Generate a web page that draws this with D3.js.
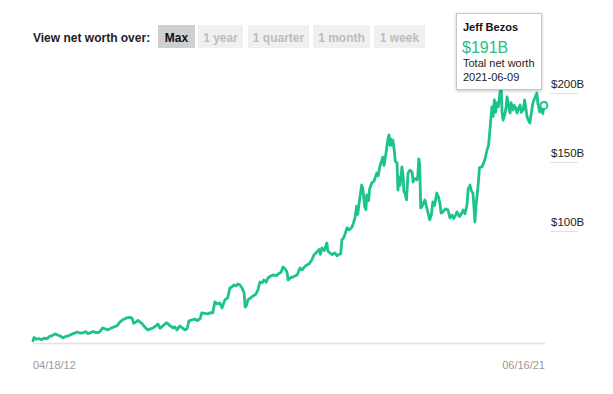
<!DOCTYPE html>
<html>
<head>
<meta charset="utf-8">
<script src="https://cdn.jsdelivr.net/npm/d3@7"></script>
<style>
  html, body { margin: 0; padding: 0; background: #fff; }
  svg { display: block; font-family: "Liberation Sans", Arial, sans-serif; }
</style>
</head>
<body>
<svg id="chart" width="613" height="394"></svg>
<script>
// ---- data (net worth, $B) ----
const dates = [
  "2012-04-18","2012-04-25","2012-05-10","2012-05-25","2012-06-15","2012-07-01","2012-07-18","2012-08-05","2012-08-22","2012-09-09","2012-09-25","2012-10-12","2012-11-01","2012-11-15","2012-12-03","2012-12-20",
  "2013-01-10","2013-02-01","2013-02-20","2013-03-10","2013-03-28","2013-04-12","2013-04-25","2013-05-15","2013-06-01","2013-06-20","2013-07-05","2013-07-18","2013-08-05","2013-08-21","2013-09-10","2013-09-28","2013-10-19","2013-11-08","2013-11-25","2013-12-10","2013-12-23",
  "2014-01-10","2014-01-25","2014-02-05","2014-02-20","2014-03-05","2014-03-17","2014-04-01","2014-04-20","2014-05-08","2014-05-25","2014-06-11","2014-06-28","2014-07-13","2014-07-28","2014-08-15","2014-09-01","2014-09-10","2014-09-28","2014-10-20","2014-11-01","2014-11-15","2014-12-04","2014-12-20",
  "2015-01-06","2015-01-20","2015-02-01","2015-02-20","2015-03-11","2015-03-28","2015-04-15","2015-04-26","2015-05-15","2015-06-04","2015-06-20","2015-07-07","2015-07-20","2015-08-05","2015-08-22","2015-09-05","2015-09-24","2015-10-12","2015-10-27","2015-11-10","2015-11-22","2015-12-05","2015-12-18","2015-12-30",
  "2016-01-14","2016-01-28","2016-02-03","2016-02-12","2016-02-22","2016-03-10","2016-03-25","2016-04-12","2016-04-27","2016-05-10","2016-05-25","2016-06-05","2016-06-20","2016-07-01","2016-07-18","2016-08-03","2016-08-25","2016-09-10","2016-09-25","2016-10-08","2016-10-20","2016-11-03","2016-11-10","2016-11-25","2016-12-12","2016-12-28",
  "2017-01-08","2017-01-27","2017-02-10","2017-02-25","2017-03-12","2017-03-28","2017-04-14","2017-04-28","2017-05-17","2017-06-01","2017-06-09","2017-06-19","2017-07-05","2017-07-21","2017-07-28","2017-08-10","2017-08-25","2017-09-12","2017-09-25","2017-10-02","2017-10-20","2017-10-28","2017-11-10","2017-11-30","2017-12-15",
  "2018-01-02","2018-01-12","2018-01-22","2018-02-01","2018-02-08","2018-02-20","2018-03-06","2018-03-14","2018-03-26","2018-04-03","2018-04-08","2018-04-20","2018-04-27","2018-05-11","2018-05-25","2018-06-13","2018-06-22","2018-07-02","2018-07-12","2018-07-22","2018-07-30","2018-08-10","2018-08-24","2018-08-31","2018-09-08","2018-09-14","2018-09-20","2018-09-26","2018-10-05","2018-10-12","2018-10-23","2018-10-29","2018-11-05","2018-11-12","2018-11-24","2018-12-01","2018-12-07","2018-12-14","2018-12-24",
  "2019-01-03","2019-01-15","2019-01-29","2019-02-05","2019-02-14","2019-03-01","2019-03-08","2019-03-14","2019-03-20","2019-03-27","2019-04-05","2019-04-23","2019-05-05","2019-05-25","2019-06-05","2019-06-14","2019-06-25","2019-07-10","2019-07-22","2019-07-30","2019-08-07","2019-08-19","2019-09-05","2019-09-21","2019-10-04","2019-10-18","2019-10-28","2019-11-08","2019-11-19","2019-12-05","2019-12-15","2019-12-29",
  "2020-01-10","2020-01-23","2020-01-31","2020-02-12","2020-02-21","2020-03-02","2020-03-09","2020-03-15","2020-03-22","2020-04-04","2020-04-14","2020-04-30","2020-05-10","2020-05-20","2020-06-02","2020-06-12","2020-06-21","2020-07-04","2020-07-12","2020-07-20","2020-07-28","2020-08-06","2020-08-15","2020-08-26","2020-09-03","2020-09-08","2020-09-15","2020-09-25","2020-10-05","2020-10-11","2020-10-20","2020-10-31","2020-11-06","2020-11-19","2020-11-27","2020-12-08","2020-12-15","2020-12-22",
  "2021-01-04","2021-01-12","2021-01-24","2021-02-03","2021-02-12","2021-02-19","2021-03-01","2021-03-09","2021-03-18","2021-03-29","2021-04-09","2021-04-24","2021-05-01","2021-05-13","2021-05-24","2021-06-02","2021-06-09","2021-06-16"
];
const values = [
  20.3,22.8,21.5,22.0,21.2,22.4,22.0,23.6,24.2,25.4,24.6,23.9,22.5,23.4,23.9,24.8,
  25.8,26.8,25.9,26.1,27.0,25.6,26.1,27.2,26.4,26.3,27.8,29.7,28.9,28.3,29.6,30.4,31.2,34.1,35.6,36.4,37.0,
  37.4,36.8,33.0,34.0,35.2,34.1,32.8,30.2,28.3,29.0,29.7,31.0,32.6,29.5,31.2,32.9,33.4,31.6,29.7,30.5,28.3,31.2,29.8,
  28.3,29.1,34.8,35.5,36.2,35.0,36.4,40.6,40.2,39.9,40.8,40.6,48.6,47.2,47.8,44.2,50.0,51.5,58.7,59.6,60.9,60.2,61.6,61.0,
  58.7,55.0,44.9,46.0,50.0,51.5,52.9,54.0,57.2,63.0,62.5,64.5,62.8,65.9,67.2,68.1,67.6,69.2,70.1,73.9,72.6,70.3,64.5,66.0,66.7,67.5,
  68.1,73.2,71.8,73.9,75.4,76.3,79.0,82.6,84.8,86.5,83.0,87.7,85.9,91.3,85.5,84.1,82.9,84.1,82.0,82.6,83.5,93.5,95.4,102.2,100.8,
  102.9,106.0,110.1,118.0,112.0,122.5,133.3,130.0,117.4,115.5,126.1,122.0,130.5,134.8,136.0,142.0,140.0,146.4,150.0,153.6,147.5,155.0,165.9,169.6,162.0,166.5,162.3,165.9,158.0,150.5,149.3,129.7,139.0,133.0,146.4,141.0,128.5,127.5,122.5,
  142.0,144.0,142.8,135.5,138.0,137.0,140.0,152.2,148.0,116.7,118.0,122.5,117.0,108.0,112.0,121.0,118.5,127.5,124.0,120.3,113.0,113.8,116.0,115.2,109.4,111.5,109.0,111.0,113.8,110.5,111.8,115.2,
  112.5,118.8,130.5,133.3,129.0,127.5,117.0,106.5,118.0,131.9,146.0,146.4,149.0,152.0,158.7,162.0,173.2,189.9,183.0,195.0,186.0,192.8,190.0,200.7,203.0,186.0,180.4,184.0,190.0,197.1,190.5,185.5,193.0,187.7,191.0,189.0,185.5,188.0,
  191.3,186.0,187.7,195.0,188.0,182.6,180.0,178.3,185.0,192.8,196.0,200.0,192.0,186.2,189.0,185.0,191.0,193.0
];
const yTicks = [100, 150, 200];
const yTickLabels = ["$100B", "$150B", "$200B"];
const xEndLabels = ["04/18/12", "06/16/21"];
const rangeButtons = ["Max", "1 year", "1 quarter", "1 month", "1 week"];
const tooltipName = "Jeff Bezos";
const tooltipValue = "$191B";
const tooltipCaption = "Total net worth";
const tooltipDate = "2021-06-09";

// ---- build ----
const parse = d3.timeParse("%Y-%m-%d");
const data = dates.map((d, i) => ({ date: parse(d), value: values[i] }));

const svg = d3.select("#chart");
const green = "#1dc38c";

const x = d3.scaleTime()
  .domain([parse(dates[0]), parse(dates[dates.length - 1])])
  .range([33, 545]);
const y = d3.scaleLinear()
  .domain([18.8, 200])
  .range([343, 93]);

// header text and buttons
svg.append("text")
  .attr("x", 33).attr("y", 41.5)
  .attr("font-size", 12).attr("font-weight", "bold").attr("fill", "#222")
  .text("View net worth over:");

const btnX = [158, 198, 248, 313, 374];
const btnW = [37, 45, 61, 57, 51];
const btn = svg.append("g").selectAll("g").data(rangeButtons).join("g");
btn.append("rect")
  .attr("x", (d, i) => btnX[i]).attr("y", 25)
  .attr("width", (d, i) => btnW[i]).attr("height", 23)
  .attr("fill", (d, i) => i === 0 ? "#cfcfcf" : "#f0f0f0");
btn.append("text")
  .attr("x", (d, i) => btnX[i] + btnW[i] / 2).attr("y", 41.5)
  .attr("text-anchor", "middle")
  .attr("font-size", 12).attr("font-weight", "bold")
  .attr("fill", (d, i) => i === 0 ? "#111" : "#bdbdbd")
  .text(d => d);

// baseline
svg.append("line")
  .attr("x1", x.range()[0]).attr("x2", x.range()[1])
  .attr("y1", 343.5).attr("y2", 343.5)
  .attr("stroke", "#e3e3e3").attr("stroke-width", 1.5);

// y ticks (right side)
const yt = svg.append("g").selectAll("g").data(yTicks).join("g");
yt.append("line")
  .attr("x1", 550).attr("x2", 578)
  .attr("y1", d => Math.round(y(d)) + 0.5).attr("y2", d => Math.round(y(d)) + 0.5)
  .attr("stroke", "#e0e0e0");
yt.append("text")
  .attr("x", 551).attr("y", d => y(d) - 5)
  .attr("font-size", 11.5).attr("fill", "#222")
  .text((d, i) => yTickLabels[i]);

// x end labels
svg.append("text").attr("x", 33).attr("y", 369)
  .attr("font-size", 11).attr("fill", "#9a9a9a").text(xEndLabels[0]);
svg.append("text").attr("x", 545).attr("y", 369).attr("text-anchor", "end")
  .attr("font-size", 11).attr("fill", "#9a9a9a").text(xEndLabels[1]);

// line
const line = d3.line().x(d => x(d.date)).y(d => y(d.value));
svg.append("path")
  .datum(data)
  .attr("d", line)
  .attr("fill", "none")
  .attr("stroke", green)
  .attr("stroke-width", 2.8)
  .attr("stroke-linejoin", "round")
  .attr("stroke-linecap", "round");

// hover marker
const hp = data.find(d => d3.timeFormat("%Y-%m-%d")(d.date) === tooltipDate);
svg.append("circle")
  .attr("cx", x(hp.date)).attr("cy", y(hp.value)).attr("r", 3.5)
  .attr("fill", "#fff").attr("stroke", green).attr("stroke-width", 2);

// tooltip
const defs = svg.append("defs");
const f = defs.append("filter").attr("id", "sh").attr("x", "-20%").attr("y", "-20%").attr("width", "140%").attr("height", "140%");
f.append("feDropShadow").attr("dx", 0).attr("dy", 1).attr("stdDeviation", 1.5).attr("flood-color", "#000").attr("flood-opacity", 0.25);
const tt = svg.append("g");
tt.append("rect")
  .attr("x", 456.5).attr("y", 13.5).attr("width", 85).attr("height", 76)
  .attr("fill", "#fff").attr("stroke", "#c8c8c8").attr("filter", "url(#sh)");
tt.append("text").attr("x", 463).attr("y", 31)
  .attr("font-size", 11).attr("font-weight", "bold").attr("fill", "#111").text(tooltipName);
tt.append("text").attr("x", 462).attr("y", 53)
  .attr("font-size", 16).attr("fill", "#2dba88").text(tooltipValue);
tt.append("text").attr("x", 463).attr("y", 67)
  .attr("font-size", 11).attr("fill", "#222").text(tooltipCaption);
tt.append("text").attr("x", 463).attr("y", 81)
  .attr("font-size", 11).attr("fill", "#222").text(tooltipDate);
</script>
</body>
</html>
